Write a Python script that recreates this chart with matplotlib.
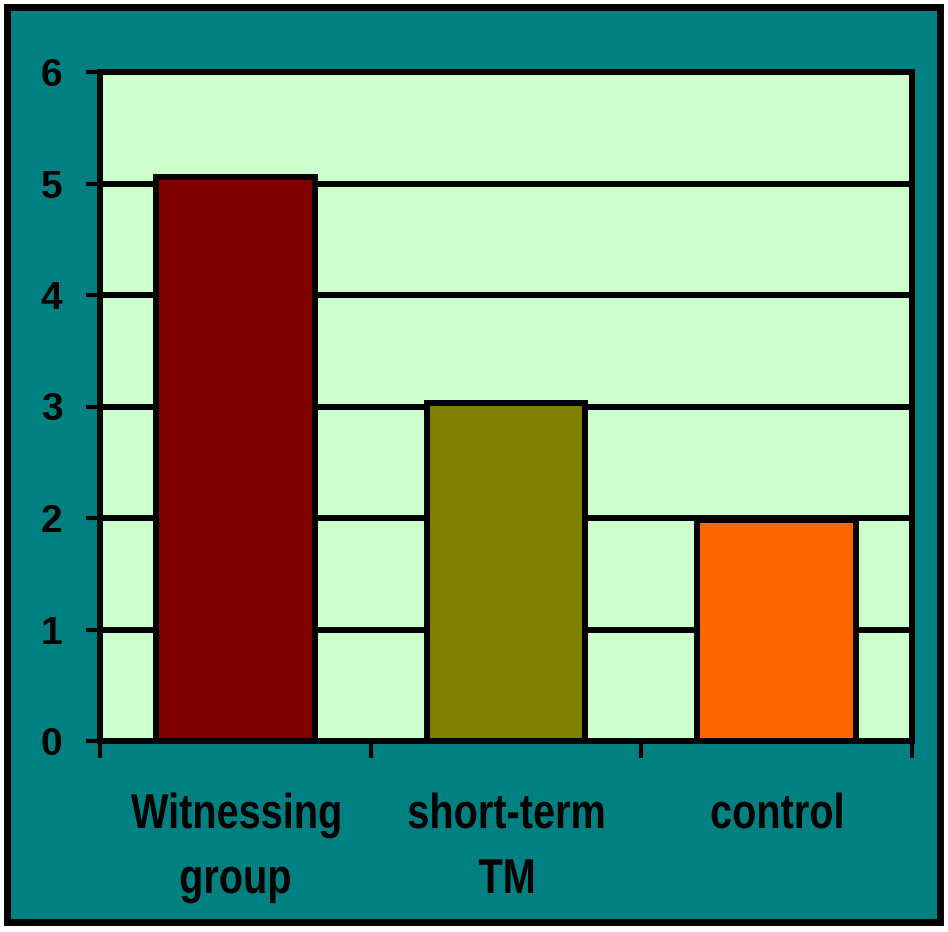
import matplotlib
matplotlib.use("Agg")
import matplotlib.pyplot as plt
from matplotlib.patches import Rectangle, PathPatch
from matplotlib.textpath import TextPath
from matplotlib.font_manager import FontProperties
from matplotlib.transforms import Affine2D, IdentityTransform

# data
categories = ["Witnessing\ngroup", "short-term\nTM", "control"]
values = [5.06, 3.03, 1.98]
bar_colors = ["#800000", "#808000", "#FF6600"]
yticks = [0, 1, 2, 3, 4, 5, 6]

W, H = 948, 932
fig = plt.figure(figsize=(W / 100, H / 100), dpi=100, facecolor="white")

# teal background with black frame (drawn below the axes)
frame = Rectangle((6.5 / W, 10 / H), 933 / W, 915.5 / H,
                  transform=fig.transFigure, facecolor="#008080",
                  edgecolor="black", linewidth=5, zorder=-5)
fig.patches.append(frame)

ax = fig.add_axes([100 / W, 191 / H, 812 / W, 669 / H])
ax.set_facecolor("#CCFFCC")

x = list(range(len(categories)))
ax.bar(x, values, width=0.585, color=bar_colors, edgecolor="black",
       linewidth=4.3, zorder=3)

ax.set_xlim(-0.5, len(categories) - 0.5)
ax.set_ylim(0, 6)
ax.set_yticks(yticks)
ax.yaxis.grid(True, color="black", linewidth=4.3, zorder=1)
ax.set_axisbelow(True)

for s in ax.spines.values():
    s.set_linewidth(4.3)
    s.set_color("black")

ax.tick_params(axis="y", direction="out", length=10, width=3, pad=17)
ax.set_yticklabels([str(t) for t in yticks], fontsize=28, fontweight="bold",
                   family=["Liberation Sans", "DejaVu Sans"])

# boundary ticks only; category labels drawn as narrow bold text below
ax.set_xticks([-0.5, 0.5, 1.5, 2.5])
ax.set_xticklabels([])
ax.tick_params(axis="x", direction="out", length=12, width=3)

# the labels in the reference are a condensed bold face, so squeeze the glyphs
prop = FontProperties(family="Liberation Sans", weight="bold")
size_px = 49
squeeze = 0.81
baselines = [H - 828, H - 893]
for i, label in enumerate(categories):
    cx = ax.transData.transform((x[i], 0))[0]
    for j, line in enumerate(label.split("\n")):
        tp = TextPath((0, 0), line, size=size_px, prop=prop)
        ext = tp.get_extents()
        w = ext.width * squeeze
        tr = Affine2D().translate(-ext.x0, 0).scale(squeeze, 1).translate(cx - w / 2, baselines[j])
        patch = PathPatch(tr.transform_path(tp), facecolor="black", edgecolor="none",
                          transform=IdentityTransform())
        fig.patches.append(patch)

fig.savefig("out.png", dpi=100, facecolor="white")
